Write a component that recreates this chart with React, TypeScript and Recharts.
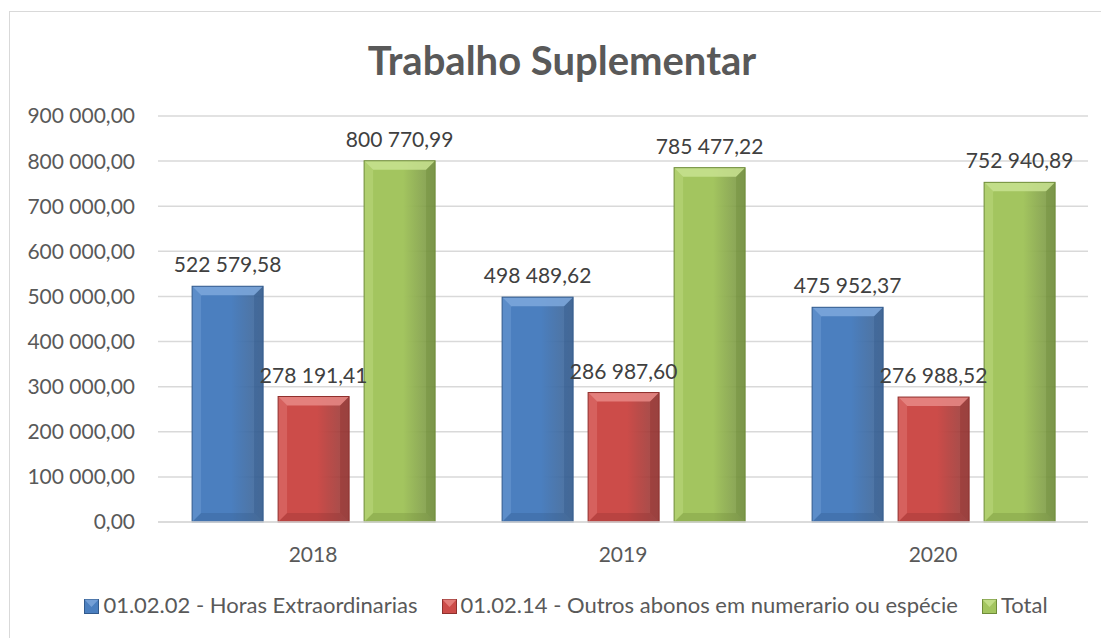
import React from "react";
import { Bar, BarChart, CartesianGrid, LabelList, Legend, XAxis, YAxis } from "recharts";

const years = ["2018", "2019", "2020"];
const horasExtra = [522579.58, 498489.62, 475952.37];
const outrosAbonos = [278191.41, 286987.6, 276988.52];
const totals = [800770.99, 785477.22, 752940.89];
const yTicks = [0, 100000, 200000, 300000, 400000, 500000, 600000, 700000, 800000, 900000];

const seriesNames = [
    "01.02.02 - Horas Extraordinarias",
    "01.02.14 - Outros abonos em numerario ou espécie",
    "Total",
];

const palette = [
    { main: "#4b7fbf", light: "#7ea8dc", dark: "#325a8c" },
    { main: "#cc4c49", light: "#e88a86", dark: "#8f302d" },
    { main: "#a3c55f", light: "#c8e290", dark: "#6f8c39" },
];

const data = years.map((year, i) => ({
    year,
    horas: horasExtra[i],
    outros: outrosAbonos[i],
    total: totals[i],
}));

const FONT = "Lato, 'Open Sans', sans-serif";

const fmt = (v: number) => {
    const [int, dec] = v.toFixed(2).split(".");
    return int.replace(/\B(?=(\d{3})+(?!\d))/g, " ") + "," + dec;
};

function bevelShape(idx: number) {
    const c = palette[idx];
    return (props: any) => {
        const { x, y, width, height } = props;
        if (!height || height <= 0) return <g />;
        const b = Math.min(9, width / 4, height / 4);
        return (
            <g>
                <rect x={x} y={y} width={width} height={height} fill={`url(#grad${idx})`} />
                <polygon
                    points={`${x},${y} ${x + width},${y} ${x + width - b},${y + b} ${x + b},${y + b}`}
                    fill={c.light}
                    opacity={0.85}
                />
                <polygon
                    points={`${x},${y} ${x + b},${y + b} ${x + b},${y + height - b} ${x},${y + height}`}
                    fill={c.light}
                    opacity={0.35}
                />
                <polygon
                    points={`${x + width},${y} ${x + width},${y + height} ${x + width - b},${y + height - b} ${x + width - b},${y + b}`}
                    fill={c.dark}
                    opacity={0.4}
                />
                <polygon
                    points={`${x},${y + height} ${x + width},${y + height} ${x + width - b},${y + height - b} ${x + b},${y + height - b}`}
                    fill={c.dark}
                    opacity={0.3}
                />
                <rect x={x} y={y} width={width} height={height} fill="none" stroke={c.dark} strokeWidth={1} />
            </g>
        );
    };
}

// value label above a bar, kept on one line
const valueLabel = (props: any) => {
    const { x, y, width, value } = props;
    return (
        <text
            x={x + width / 2}
            y={y - 14}
            textAnchor="middle"
            fontFamily={FONT}
            fontSize={21}
            fill="#404040"
        >
            {fmt(value)}
        </text>
    );
};

function LegendIcon({ idx }: { idx: number }) {
    const c = palette[idx];
    return (
        <svg width={15} height={15} style={{ marginRight: 4, verticalAlign: "-1px" }}>
            <rect x={0.5} y={0.5} width={14} height={14} fill={c.main} stroke={c.dark} />
            <polygon points="0.5,0.5 14.5,0.5 7.5,8" fill={c.light} opacity={0.8} />
        </svg>
    );
}

function renderLegend() {
    return (
        <div style={{ textAlign: "center", fontFamily: FONT, fontSize: 22, lineHeight: "26px", height: 26, color: "#595959" }}>
            {seriesNames.map((n, i) => (
                <span key={n} style={{ marginRight: i < seriesNames.length - 1 ? 24 : 0, whiteSpace: "nowrap" }}>
                    <LegendIcon idx={i} />
                    {n}
                </span>
            ))}
        </div>
    );
}

export default function App() {
    return (
        <div style={{ position: "fixed", left: 0, top: 0, width: 1101, height: 638, overflow: "hidden", background: "#fff" }}>
            <div
                style={{
                    position: "absolute",
                    left: 9,
                    top: 11,
                    width: 1104,
                    height: 640,
                    border: "1px solid #d9d9d9",
                    background: "#fff",
                }}
            >
                <div
                    style={{
                        position: "absolute",
                        left: 0,
                        top: 24,
                        width: 1104,
                        textAlign: "center",
                        fontFamily: FONT,
                        fontWeight: 700,
                        fontSize: 40,
                        color: "#595959",
                    }}
                >
                    Trabalho Suplementar
                </div>
                <BarChart
                    width={1104}
                    height={626}
                    data={data}
                    margin={{ top: 104, right: 26, bottom: 60, left: 0 }}
                    barCategoryGap="11%"
                    barGap={15}
                >
                    <defs>
                        {palette.map((c, i) => (
                            <linearGradient key={i} id={`grad${i}`} x1="0" y1="0" x2="1" y2="0">
                                <stop offset="0%" stopColor={c.main} />
                                <stop offset="55%" stopColor={c.main} />
                                <stop offset="100%" stopColor={c.dark} stopOpacity={0.85} />
                            </linearGradient>
                        ))}
                    </defs>
                    <CartesianGrid vertical={false} stroke="#d9d9d9" strokeWidth={1.5} />
                    <XAxis
                        dataKey="year"
                        height={30}
                        axisLine={{ stroke: "#d9d9d9", strokeWidth: 1.5 }}
                        tickLine={false}
                        tickSize={0}
                        tickMargin={25}
                        tick={{ fontFamily: FONT, fontSize: 21, fill: "#595959" }}
                    />
                    <YAxis
                        width={148}
                        domain={[0, 900000]}
                        ticks={yTicks}
                        axisLine={false}
                        tickLine={false}
                        tickSize={0}
                        tickMargin={23}
                        tickFormatter={fmt}
                        tick={{ fontFamily: FONT, fontSize: 21, fill: "#595959" }}
                    />
                    <Legend
                        content={renderLegend}
                        verticalAlign="bottom"
                        wrapperStyle={{ bottom: 20, left: 4, width: 1104 }}
                    />
                    <Bar dataKey="horas" name={seriesNames[0]} fill={palette[0].main} shape={bevelShape(0)} isAnimationActive={false}>
                        <LabelList dataKey="horas" content={valueLabel} />
                    </Bar>
                    <Bar dataKey="outros" name={seriesNames[1]} fill={palette[1].main} shape={bevelShape(1)} isAnimationActive={false}>
                        <LabelList dataKey="outros" content={valueLabel} />
                    </Bar>
                    <Bar dataKey="total" name={seriesNames[2]} fill={palette[2].main} shape={bevelShape(2)} isAnimationActive={false}>
                        <LabelList dataKey="total" content={valueLabel} />
                    </Bar>
                </BarChart>
            </div>
        </div>
    );
}
